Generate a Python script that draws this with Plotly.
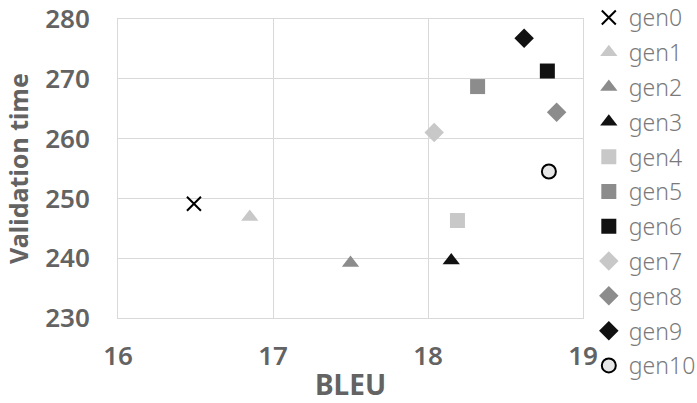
import plotly.graph_objects as go

names = ["gen0", "gen1", "gen2", "gen3", "gen4", "gen5", "gen6", "gen7", "gen8", "gen9", "gen10"]
bleu = [16.49, 16.85, 17.50, 18.15, 18.19, 18.32, 18.77, 18.04, 18.83, 18.62, 18.78]
val_time = [249.1, 246.9, 239.2, 239.6, 246.3, 268.7, 271.3, 261.0, 264.4, 276.8, 254.5]
symbols = ["x-thin", "triangle-up", "triangle-up", "triangle-up", "square", "square", "square",
           "diamond", "diamond", "diamond", "circle"]
colors = ["#000000", "#c8c8c8", "#8c8c8c", "#111111", "#c8c8c8", "#8c8c8c", "#111111",
          "#c8c8c8", "#8c8c8c", "#111111", "#e6e6e6"]
sizes = [14, 15, 15, 15, 15, 15, 15, 15, 15, 15, 14]

FONT = "Noto Sans"
TXT = "#636363"
LTXT = "#7a7a7a"
GRID = "#d9d9d9"

fig = go.Figure()
for i, n in enumerate(names):
    if symbols[i] == "x-thin":
        marker = dict(symbol="x-thin", size=sizes[i], color=colors[i],
                      line=dict(color="#000000", width=2))
    elif symbols[i] == "circle":
        marker = dict(symbol="circle", size=sizes[i], color=colors[i],
                      line=dict(color="#000000", width=2))
    else:
        marker = dict(symbol=symbols[i], size=sizes[i], color=colors[i], line=dict(width=0))
    fig.add_trace(go.Scatter(x=[bleu[i]], y=[val_time[i]], mode="markers", name=n,
                             legendgroup=n, marker=marker))

fig.update_layout(
    width=697, height=403,
    margin=dict(l=117.5, r=113.7, t=19, b=84.7, autoexpand=False),
    paper_bgcolor="white", plot_bgcolor="white",
    font=dict(family=FONT, color=TXT, size=24),
    legend=dict(x=1.0125, y=1.077, xanchor="left", yanchor="top", maxheight=403,
                font=dict(family=FONT, size=23, color=LTXT, weight=300),
                tracegroupgap=1.9, itemwidth=30, bgcolor="rgba(0,0,0,0)"),
    xaxis=dict(range=[16, 19], dtick=1, showgrid=True, gridcolor=GRID, gridwidth=1,
               showline=True, linecolor=GRID, linewidth=1, mirror=True, zeroline=False,
               tickfont=dict(family=FONT, size=26, color=TXT, weight=600),
               ticklabelstandoff=15,
               title=dict(text="BLEU", font=dict(family=FONT, size=28, color=TXT, weight=700),
                          standoff=4)),
    yaxis=dict(range=[230, 280], dtick=10, showgrid=True, gridcolor=GRID, gridwidth=1,
               showline=True, linecolor=GRID, linewidth=1, mirror=True, zeroline=False,
               tickfont=dict(family=FONT, size=26, color=TXT, weight=600),
               ticklabelstandoff=22,
               title=dict(text="Validation time", font=dict(family=FONT, size=25, color=TXT, weight=700),
                          standoff=9)),
)

fig.write_html("out.html", config={"displayModeBar": False},
               post_script="document.body.style.margin='0';")
